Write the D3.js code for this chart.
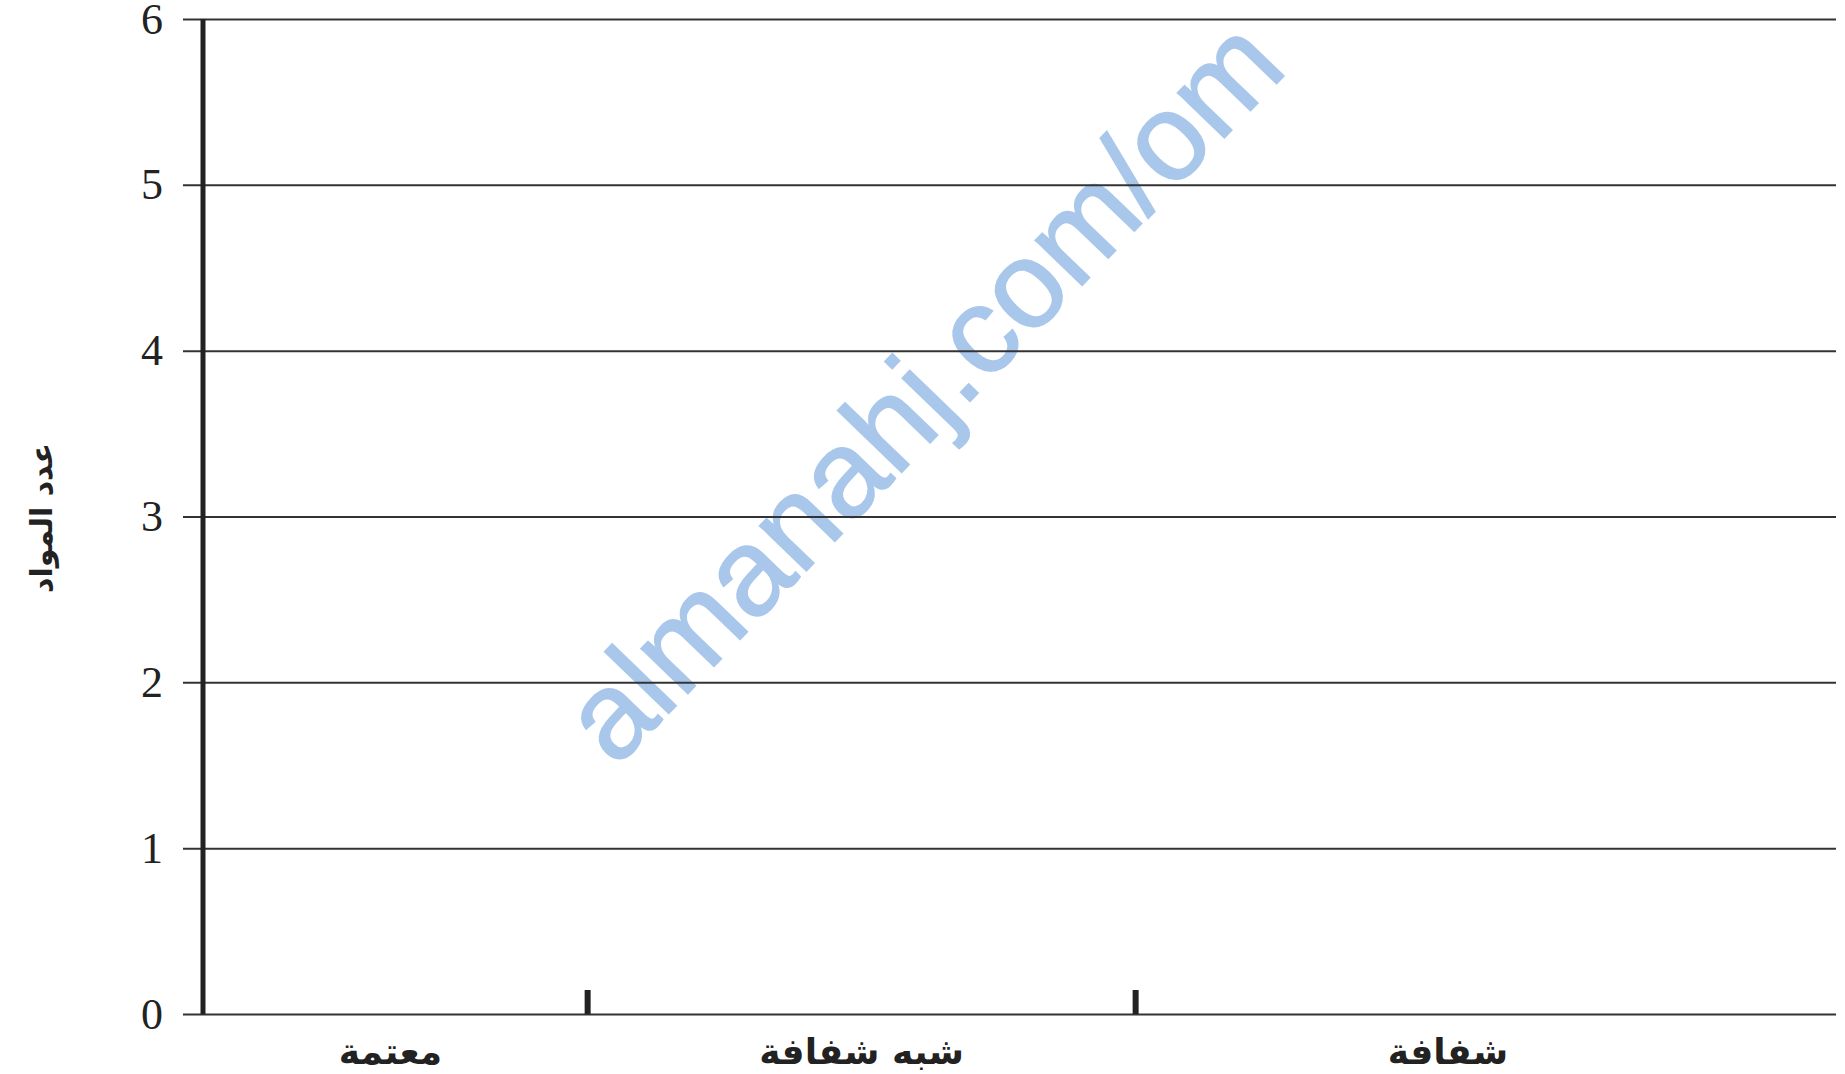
<!DOCTYPE html>
<html lang="ar">
<head>
    <meta charset="UTF-8">
    <title>عدد المواد</title>
    <script src="https://d3js.org/d3.v7.min.js" charset="utf-8"></script>
    <style>
        body{margin:0;background:#fff;}
    </style>
</head>
<body>
    <svg></svg>
    <script>
        // categories along the bottom, left to right
        var categories = ["معتمة", "شبه شفافة", "شفافة"];
        // label position of each category on the x scale (separators sit at 1 and 2)
        var categoryPos = [0.64, 1.5, 2.57];
        var separators = [1, 2];
        // y axis ticks
        var yTicks = [0, 1, 2, 3, 4, 5, 6];
        var yTitle = "عدد المواد";
        var watermark = "almanahj.com/om";

        var width = 1845, height = 1074;
        var svg = d3.select("svg")
            .attr("width", width)
            .attr("height", height);

        //scales
        var x = d3.scaleLinear().domain([0.299, 3.279]).range([203, 1836]);
        var y = d3.scaleLinear().domain([0, 6]).range([1014, 19]);

        //watermark goes under the lines
        svg.append("text")
            .attr("transform", "translate(922,390) rotate(-46)")
            .attr("text-anchor", "middle")
            .attr("dominant-baseline", "central")
            .attr("font-family", "Liberation Sans, Arial, sans-serif")
            .attr("font-size", 123)
            .attr("fill", "#a9c7eb")
            .attr("stroke", "#a9c7eb")
            .attr("stroke-width", 1.5)
            .text(watermark);

        //horizontal grid + y labels
        var gridLeft = 183;
        var yAxis = svg.append("g")
            .attr("transform", "translate(" + x.range()[1] + ",0)")
            .call(d3.axisLeft(y)
                .tickValues(yTicks)
                .tickSize(x.range()[1] - gridLeft)
                .tickPadding(20)
                .tickFormat(d3.format("d")));
        yAxis.select(".domain").remove();
        yAxis.selectAll("line")
            .attr("stroke", "#333")
            .attr("stroke-width", 2);
        yAxis.selectAll("text")
            .attr("font-family", "Liberation Serif, Times New Roman, serif")
            .attr("font-size", 44)
            .attr("dy", "0.32em")
            .attr("fill", "#222");

        //vertical axis line
        svg.append("line")
            .attr("x1", x.range()[0])
            .attr("x2", x.range()[0])
            .attr("y1", y(6))
            .attr("y2", y(0))
            .attr("stroke", "#222")
            .attr("stroke-width", 5);

        //separator ticks on the bottom line
        var sepAxis = svg.append("g")
            .attr("transform", "translate(0," + y(0) + ")")
            .call(d3.axisBottom(x)
                .tickValues(separators)
                .tickSize(-24)
                .tickFormat(""));
        sepAxis.select(".domain").remove();
        sepAxis.selectAll("line")
            .attr("stroke", "#222")
            .attr("stroke-width", 6);

        //category labels
        var catAxis = svg.append("g")
            .attr("transform", "translate(0," + y(0) + ")")
            .call(d3.axisBottom(x)
                .tickValues(categoryPos)
                .tickSize(0)
                .tickPadding(24)
                .tickFormat(function(d, i){ return categories[i]; }));
        catAxis.select(".domain").remove();
        catAxis.selectAll("text")
            .attr("font-family", "DejaVu Sans, sans-serif")
            .attr("font-size", 36)
            .attr("font-weight", "bold")
            .attr("fill", "#222");

        //y title
        svg.append("text")
            .attr("transform", "translate(41,518) rotate(-90)")
            .attr("text-anchor", "middle")
            .attr("dominant-baseline", "central")
            .attr("font-family", "DejaVu Sans, sans-serif")
            .attr("font-size", 30)
            .attr("font-weight", "bold")
            .attr("fill", "#222")
            .text(yTitle);
    </script>
</body>
</html>
